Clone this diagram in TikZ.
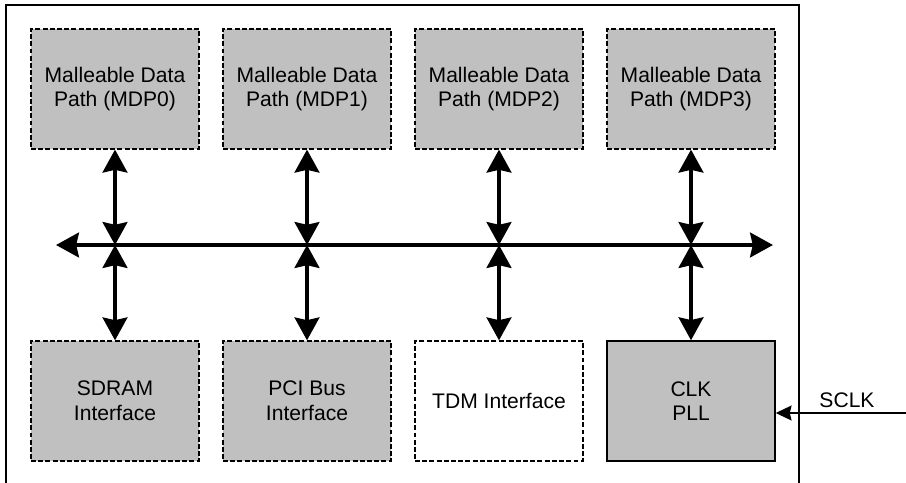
\documentclass[tikz,border=0pt]{standalone}
\usepackage{fontspec}
\setmainfont{Liberation Sans}
\usetikzlibrary{arrows.meta}

\definecolor{boxgray}{HTML}{C0C0C0}

\newcommand*{\topy}{89}
\newcommand*{\boty}{401}
\newcommand*{\busy}{245}

\begin{document}
\begin{tikzpicture}
[
	x=0.02cm,
	y=-0.02cm,
	block/.style={draw,fill=boxgray,line width=0.7pt,minimum width=3.36cm,minimum height=2.4cm,
		inner sep=0pt,align=center,font=\fontsize{12}{14}\selectfont},
	dashblock/.style={block,dash pattern=on 2.8pt off 1.3pt},
	busline/.style={line width=2.3pt,-{Stealth[length=13pt,width=14pt,inset=1.5pt]}},
	link/.style={line width=2.3pt,{Stealth[length=13pt,width=14pt,inset=1.5pt]}-{Stealth[length=13pt,width=14pt,inset=1.5pt]}},
	frame/.style={line width=0.85pt}
]

	\useasboundingbox (0,0) rectangle (906,483);

	% chip outline
	\draw[frame] (6,483) -- (6,5) -- (799,5) -- (799,483);

	% data paths and bus taps
	\foreach \i/\x in {0/115,1/307,2/499,3/691} {
		\node[dashblock] (mdp\i) at (\x,\topy) {Malleable Data\\Path (MDP\i)};
		\coordinate (tap\i) at (\x,\busy);
	}

	% interfaces
	\node[dashblock] (sdram) at (115,\boty) {SDRAM\\Interface};
	\node[dashblock] (pci) at (307,\boty) {PCI Bus\\Interface};
	\node[dashblock,fill=white] (tdm) at (499,\boty) {TDM Interface};
	\node[block,line width=0.85pt] (clk) at (691,\boty) {CLK\\PLL};

	% bus
	\coordinate (busw) at (56,\busy);
	\coordinate (buse) at (773,\busy);
	\draw[busline] (tap0) -- (busw);
	\draw[busline] (tap0) -- (buse);

	\foreach \i in {0,1,2,3} {
		\draw[link] (mdp\i.south) -- (tap\i);
	}
	\draw[link] (tap0) -- (sdram.north);
	\draw[link] (tap1) -- (pci.north);
	\draw[link] (tap2) -- (tdm.north);
	\draw[link] (tap3) -- (clk.north);

	% clock input
	\coordinate (sclk) at (906,413);
	\draw[line width=0.85pt,-{Stealth[length=9pt,width=8.5pt,inset=1pt]}] (sclk) -- (clk.east |- sclk);
	\node[font=\fontsize{12}{14}\selectfont] (sclklbl) at (847,400) {SCLK};

\end{tikzpicture}
\end{document}
